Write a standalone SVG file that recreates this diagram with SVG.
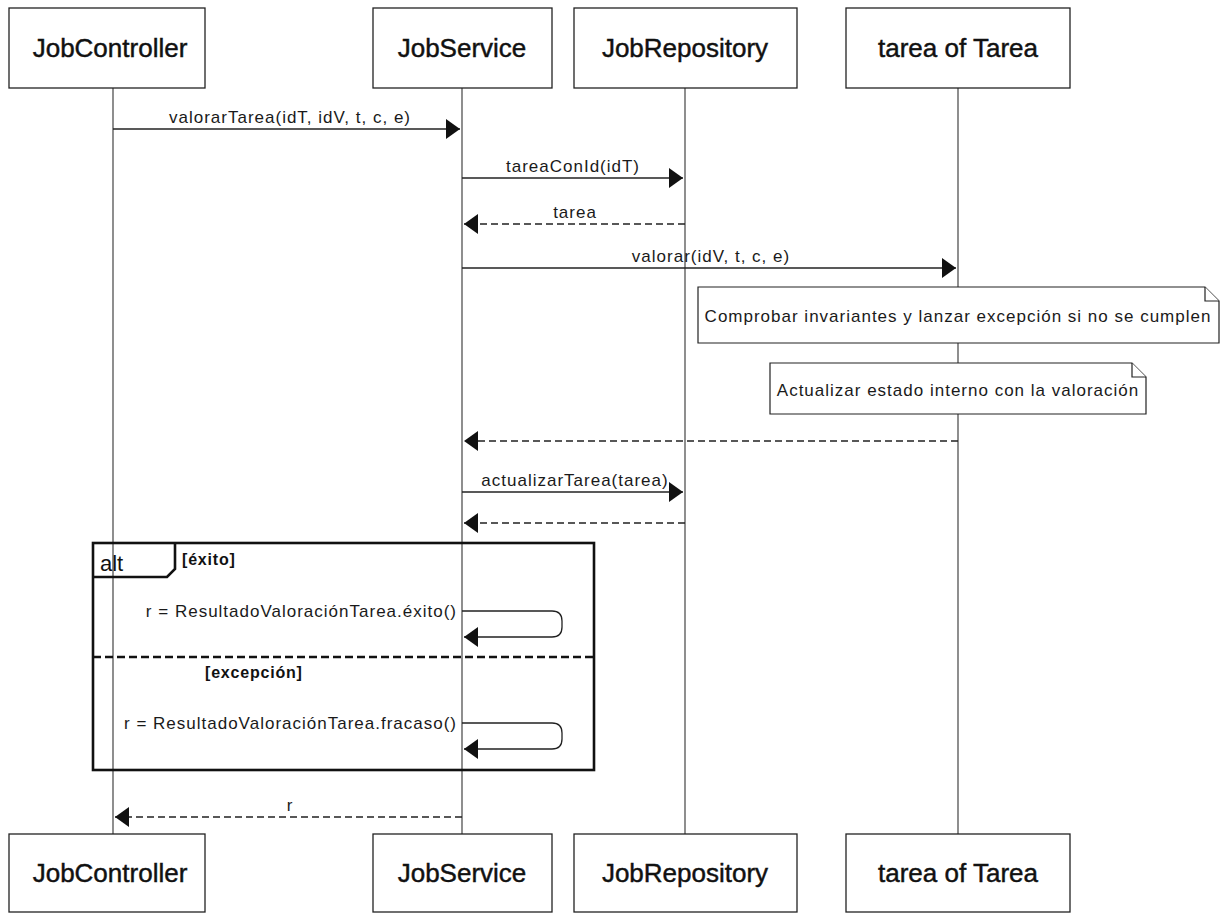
<svg xmlns="http://www.w3.org/2000/svg" width="1227" height="914" viewBox="0 0 1227 914">
  <style>
    .box { fill: #ffffff; stroke: #222222; stroke-width: 1.3; }
    .pname { font-family: "Liberation Sans", Arial, sans-serif; font-size: 26px; fill: #111111; stroke: #111111; stroke-width: 0.45; text-anchor: middle; }
    .life { stroke: #444444; stroke-width: 1.2; }
    .msg { stroke: #222222; stroke-width: 1.3; fill: none; }
    .ret { stroke: #222222; stroke-width: 1.3; fill: none; stroke-dasharray: 7 4; }
    .lbl { font-family: "Liberation Sans", Arial, sans-serif; font-size: 17px; letter-spacing: 1px; fill: #1a1a1a; }
    .note { fill: #ffffff; stroke: #222222; stroke-width: 1.2; }
    .frame { fill: none; stroke: #111111; stroke-width: 2.6; }
    .guard { font-family: "Liberation Sans", Arial, sans-serif; font-size: 16px; font-weight: bold; letter-spacing: 0.8px; fill: #111111; }
  </style>
  <defs>
    <marker id="head" viewBox="0 0 14 20" refX="14" refY="10" markerWidth="14" markerHeight="20" markerUnits="userSpaceOnUse" orient="auto">
      <path d="M0,0 L14,10 L0,20 Z" fill="#111111"/>
    </marker>
  </defs>
  <rect width="1227" height="914" fill="#ffffff"/>

  <!-- lifelines -->
  <g id="lifelines">
    <line class="life" x1="113" y1="88" x2="113" y2="834"/>
    <line class="life" x1="462" y1="88" x2="462" y2="834"/>
    <line class="life" x1="685" y1="88" x2="685" y2="834"/>
    <line class="life" x1="958" y1="88" x2="958" y2="834"/>
  </g>

  <!-- participants -->
  <g id="jobController">
    <rect class="box" x="9" y="8" width="196" height="80"/>
    <text class="pname" x="110" y="57">JobController</text>
    <rect class="box" x="9" y="834" width="196" height="78"/>
    <text class="pname" x="110" y="882">JobController</text>
  </g>
  <g id="jobService">
    <rect class="box" x="373" y="8" width="179" height="80"/>
    <text class="pname" x="462" y="57">JobService</text>
    <rect class="box" x="373" y="834" width="179" height="78"/>
    <text class="pname" x="462" y="882">JobService</text>
  </g>
  <g id="jobRepository">
    <rect class="box" x="574" y="8" width="223" height="80"/>
    <text class="pname" x="685" y="57">JobRepository</text>
    <rect class="box" x="574" y="834" width="223" height="78"/>
    <text class="pname" x="685" y="882">JobRepository</text>
  </g>
  <g id="tarea">
    <rect class="box" x="846" y="8" width="224" height="80"/>
    <text class="pname" x="958" y="57">tarea of Tarea</text>
    <rect class="box" x="846" y="834" width="224" height="78"/>
    <text class="pname" x="958" y="882">tarea of Tarea</text>
  </g>

  <!-- notes on tarea -->
  <g id="note1">
    <path class="note" d="M698,287 L1205,287 L1219,301 L1219,343 L698,343 Z"/>
    <path class="note" d="M1205,287 L1205,301 L1219,301" fill="none"/>
    <text class="lbl" x="958" y="322" text-anchor="middle">Comprobar invariantes y lanzar excepción si no se cumplen</text>
  </g>
  <g id="note2">
    <path class="note" d="M770,363 L1132,363 L1146,377 L1146,414 L770,414 Z"/>
    <path class="note" d="M1132,363 L1132,377 L1146,377" fill="none"/>
    <text class="lbl" x="958" y="396" text-anchor="middle">Actualizar estado interno con la valoración</text>
  </g>

  <!-- alt fragment -->
  <g id="altFrame">
    <rect class="frame" x="93" y="543" width="501" height="227"/>
    <path class="frame" d="M93,577 L167,577 L175,569 L175,543"/>
    <text x="100" y="571" font-family="'Liberation Sans', Arial, sans-serif" font-size="22" fill="#111111">alt</text>
    <text class="guard" x="182" y="565">[éxito]</text>
    <line x1="93" y1="657" x2="594" y2="657" stroke="#111111" stroke-width="2.6" stroke-dasharray="8 4"/>
    <text class="guard" x="205" y="678">[excepción]</text>
  </g>

  <!-- messages -->
  <g id="connectors">
    <line class="msg" x1="113" y1="129" x2="460" y2="129" marker-end="url(#head)"/>
    <text class="lbl" x="290" y="123" text-anchor="middle">valorarTarea(idT, idV, t, c, e)</text>

    <line class="msg" x1="462" y1="178" x2="683" y2="178" marker-end="url(#head)"/>
    <text class="lbl" x="573" y="172" text-anchor="middle">tareaConId(idT)</text>

    <line class="ret" x1="685" y1="224" x2="464" y2="224" marker-end="url(#head)"/>
    <text class="lbl" x="575" y="218" text-anchor="middle">tarea</text>

    <line class="msg" x1="462" y1="268" x2="956" y2="268" marker-end="url(#head)"/>
    <text class="lbl" x="711" y="262" text-anchor="middle">valorar(idV, t, c, e)</text>

    <line class="ret" x1="958" y1="441" x2="464" y2="441" marker-end="url(#head)"/>

    <line class="msg" x1="462" y1="492" x2="683" y2="492" marker-end="url(#head)"/>
    <text class="lbl" x="575" y="486" text-anchor="middle">actualizarTarea(tarea)</text>

    <line class="ret" x1="685" y1="523" x2="464" y2="523" marker-end="url(#head)"/>

    <path class="msg" d="M462,611 L552,611 Q562,611 562,621 L562,627 Q562,637 552,637 L464,637" marker-end="url(#head)"/>
    <text class="lbl" x="457" y="617" text-anchor="end">r = ResultadoValoraciónTarea.éxito()</text>

    <path class="msg" d="M462,723 L552,723 Q562,723 562,733 L562,739 Q562,749 552,749 L464,749" marker-end="url(#head)"/>
    <text class="lbl" x="457" y="729" text-anchor="end">r = ResultadoValoraciónTarea.fracaso()</text>

    <line class="ret" x1="462" y1="817" x2="115" y2="817" marker-end="url(#head)"/>
    <text class="lbl" x="290" y="811" text-anchor="middle">r</text>
  </g>
</svg>
